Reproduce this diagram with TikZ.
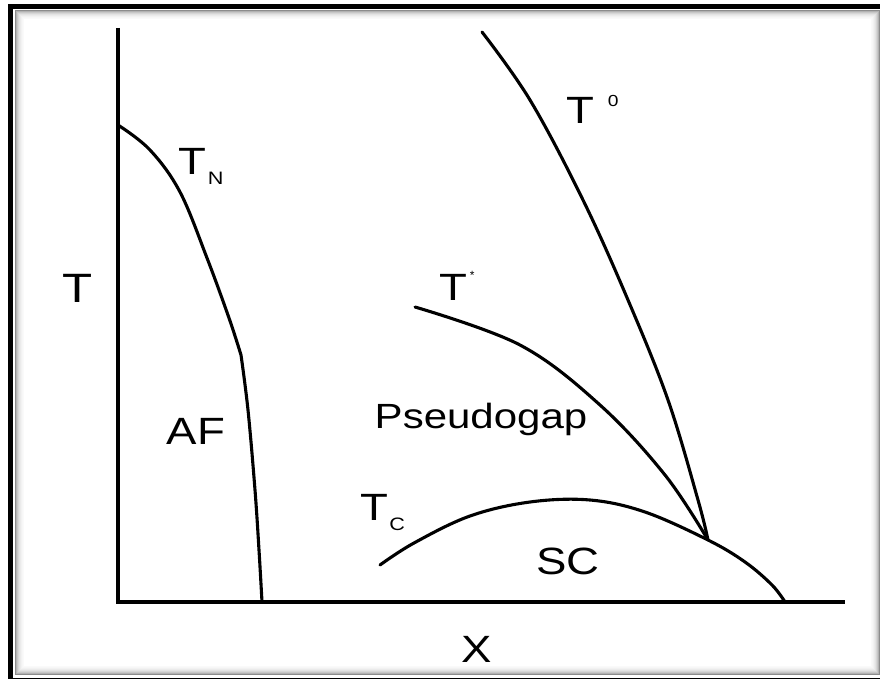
\documentclass[tikz,border=0pt]{standalone}
\usepackage{graphicx}
\usepackage{fontspec}
\setmainfont{Liberation Sans}
\usetikzlibrary{positioning}

\newcommand{\wide}[1]{\scalebox{1.2}[1]{#1}}

\tikzset{
  lbl/.style={inner sep=0pt, font=\fontsize{38}{40}\selectfont},
  sublbl/.style={inner sep=0pt, font=\fontsize{18}{20}\selectfont},
  curve/.style={line width=3.1pt, line join=round, line cap=round},
  axis/.style={line width=3.8pt},
}

\begin{document}
\begin{tikzpicture}[x=1pt, y=-1pt, node distance=1pt]
        \useasboundingbox (0,0) rectangle (880,679);
        % frame with inner shadow
        \draw[line width=5pt] (10.5,6.5) rectangle (886,680);
        \draw[black!45, line width=1pt] (15,11) rectangle (879,674);
        \foreach \i/\c in {1/30,2/22,3/16,4/11,5/8,6/5,7/3,8/2}
          \draw[black!\c, line width=1pt] (15+\i,11+\i) rectangle (879-\i,674-\i);

        % axes
        \coordinate (O) at (118,602);
        \coordinate (Ytop) at (118,28);
        \coordinate (Xend) at (845,602);
        \draw[axis] (Ytop) -- (O) -- (Xend);

        % labels
        \node[lbl, font=\fontsize{41}{43}\selectfont] (T) at (78,288) {\wide{T}};
        \node[lbl] (X) at (477,649) {\wide{X}};
        \node[lbl] (AF) at (196,431) {\wide{AF}};
        \node[lbl] (SC) at (568,561) {\wide{SC}};
        \node[lbl, font=\fontsize{35}{37}\selectfont, anchor=base] (PG) at (481,428) {\wide{Pseudogap}};

        \node[lbl] (TN) at (192.5,161.5) {\wide{T}};
        \node[sublbl, right=1pt of TN.south east, anchor=west, yshift=-4pt] (TNsub) {\wide{N}};
        \node[lbl] (TS) at (453.5,287.5) {\wide{T}};
        \node[sublbl, font=\fontsize{12}{13}\selectfont, right=2pt of TS.north east, yshift=-1pt] (TSsup) {*};
        \node[lbl] (TZ) at (580.5,110.5) {\wide{T}};
        \node[sublbl, font=\fontsize{16}{17}\selectfont, right=13pt of TZ.north east, yshift=-3.5pt] (TZsup) {\wide{0}};
        \node[lbl] (TC) at (374,507.5) {\wide{T}};
        \node[sublbl, right=1pt of TC.south east, anchor=west, yshift=-4pt] (TCsub) {\wide{C}};

        % phase lines
        \coordinate (J) at (708,540);
        \draw[curve] plot[smooth, tension=0.6] coordinates {(118,125) (150,150) (180,192) (207,258) (229,318) (241,355)}
          -- plot[smooth, tension=0.6] coordinates {(241,355) (248,410) (255,490) (259,550) (262,602)};
        \draw[curve] plot[smooth, tension=0.6] coordinates {(482,32) (530,100) (583,200) (628,300) (668,400) (698,500) (J)};
        \draw[curve] plot[smooth, tension=0.6] coordinates {(415,307) (520,345) (600,405) (665,475) (J)};
        \draw[curve] plot[smooth, tension=0.6] coordinates {(380,565) (414,543) (470,516) (530,502) (590,500) (645,512) (J) (745,562) (772,585) (785,602)};
    \end{tikzpicture}
\end{document}
